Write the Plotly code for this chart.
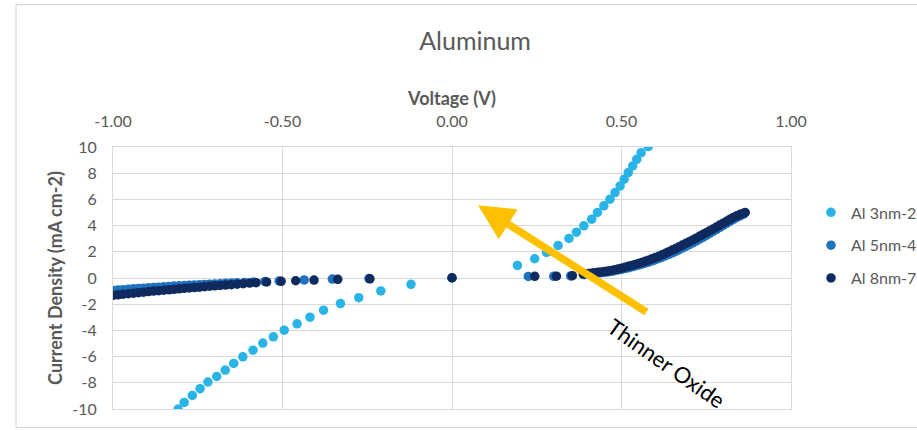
import plotly.graph_objects as go

# ---------------- data ----------------
# Al 3nm-2 : negative and positive branches
v_3nm = [-0.808, -0.790, -0.766, -0.743, -0.720, -0.694, -0.669, -0.644, -0.617, -0.587,
         -0.558, -0.527, -0.495, -0.457, -0.419, -0.379, -0.329, -0.275, -0.210, -0.121,
         0.193, 0.244, 0.279, 0.313, 0.345, 0.367, 0.389, 0.412, 0.429, 0.448,
         0.466, 0.481, 0.496, 0.508, 0.520, 0.533, 0.545, 0.558, 0.579]
j_3nm = [-10.0, -9.5, -8.96, -8.45, -7.94, -7.51, -7.03, -6.52, -6.02, -5.51,
         -4.97, -4.49, -3.98, -3.50, -2.99, -2.46, -1.95, -1.50, -0.99, -0.48,
         0.96, 1.47, 1.95, 2.49, 3.02, 3.50, 3.98, 4.49, 5.00, 5.51,
         6.02, 6.52, 7.03, 7.54, 8.05, 8.55, 9.06, 9.57, 10.03]

# Al 5nm-4
v_5nm = [-1.000, -0.985, -0.970, -0.955, -0.940, -0.925, -0.910, -0.895, -0.880, -0.865,
         -0.850, -0.835, -0.820, -0.805, -0.790, -0.775, -0.760, -0.745, -0.730, -0.715,
         -0.700, -0.684, -0.668, -0.651, -0.634, -0.612, -0.585, -0.552, -0.510, -0.436,
         -0.353, -0.245, 0.000,
         0.225, 0.300, 0.350,
         0.39, 0.40, 0.41, 0.42, 0.43, 0.44, 0.45, 0.46, 0.47, 0.48,
         0.49, 0.50, 0.51, 0.52, 0.53, 0.54, 0.55, 0.56, 0.57, 0.58,
         0.59, 0.60, 0.61, 0.62, 0.63, 0.64, 0.65, 0.66, 0.67, 0.68,
         0.69, 0.70, 0.71, 0.72, 0.73, 0.74, 0.75, 0.76, 0.77, 0.78,
         0.79, 0.80, 0.81, 0.82, 0.83, 0.84, 0.85, 0.86]
j_5nm = [-0.95, -0.92, -0.89, -0.86, -0.83, -0.80, -0.78, -0.75, -0.72, -0.70,
         -0.67, -0.65, -0.62, -0.60, -0.58, -0.55, -0.53, -0.51, -0.49, -0.47,
         -0.45, -0.43, -0.41, -0.39, -0.37, -0.34, -0.31, -0.27, -0.23, -0.15,
         -0.08, -0.04, 0.00,
         0.12, 0.13, 0.16,
         0.25, 0.28, 0.31, 0.34, 0.37, 0.40, 0.43, 0.47, 0.51, 0.56,
         0.61, 0.66, 0.72, 0.78, 0.85, 0.92, 0.99, 1.06, 1.14, 1.22,
         1.31, 1.40, 1.49, 1.59, 1.70, 1.81, 1.92, 2.04, 2.16, 2.29,
         2.42, 2.55, 2.68, 2.82, 2.96, 3.10, 3.25, 3.40, 3.55, 3.70,
         3.86, 4.01, 4.17, 4.33, 4.48, 4.62, 4.75, 4.87]

# Al 8nm-7
v_8nm = [-1.000, -0.985, -0.970, -0.955, -0.940, -0.925, -0.910, -0.895, -0.880, -0.865,
         -0.850, -0.835, -0.820, -0.805, -0.790, -0.775, -0.760, -0.745, -0.730, -0.715,
         -0.700, -0.684, -0.668, -0.651, -0.634, -0.616, -0.597, -0.578, -0.547, -0.504,
         -0.461, -0.407, -0.337, -0.242, 0.000,
         0.244, 0.308, 0.355,
         0.387, 0.40, 0.41, 0.42, 0.43, 0.44, 0.45, 0.46, 0.47, 0.48,
         0.49, 0.50, 0.51, 0.52, 0.53, 0.54, 0.55, 0.56, 0.57, 0.58,
         0.59, 0.60, 0.61, 0.62, 0.63, 0.64, 0.65, 0.66, 0.67, 0.68,
         0.69, 0.70, 0.71, 0.72, 0.73, 0.74, 0.75, 0.76, 0.77, 0.78,
         0.79, 0.80, 0.81, 0.82, 0.83, 0.84, 0.85, 0.86, 0.865]
j_8nm = [-1.32, -1.28, -1.24, -1.20, -1.16, -1.12, -1.08, -1.04, -1.00, -0.97,
         -0.93, -0.90, -0.86, -0.83, -0.79, -0.76, -0.73, -0.70, -0.66, -0.63,
         -0.60, -0.57, -0.54, -0.51, -0.47, -0.43, -0.39, -0.36, -0.30, -0.25,
         -0.21, -0.16, -0.10, -0.06, 0.02,
         0.13, 0.14, 0.18,
         0.30, 0.34, 0.37, 0.40, 0.43, 0.46, 0.49, 0.53, 0.58, 0.63,
         0.69, 0.75, 0.82, 0.89, 0.96, 1.03, 1.10, 1.18, 1.27, 1.36,
         1.46, 1.56, 1.66, 1.77, 1.89, 2.01, 2.13, 2.25, 2.38, 2.51,
         2.64, 2.77, 2.90, 3.04, 3.18, 3.32, 3.46, 3.60, 3.74, 3.89,
         4.04, 4.18, 4.33, 4.48, 4.62, 4.75, 4.86, 4.95, 5.00]

series_names = ["Al 3nm-2", "Al 5nm-4", "Al 8nm-7"]
series_colors = ["#29B4E8", "#1F72BE", "#0E2A5E"]

x_tickvals = [-1.0, -0.5, 0.0, 0.5, 1.0]
x_ticktext = ["-1.00", "-0.50", "0.00", "0.50", "1.00"]
y_tickvals = [10, 8, 6, 4, 2, 0, -2, -4, -6, -8, -10]
y_ticktext = ["10", "8", "6", "4", "2", "0", "-2", "-4", "-6", "-8", "-10"]

chart_title = "Aluminum"
x_title = "Voltage (V)"
y_title = "Current Density (mA cm-2)"
arrow_label = "Thinner Oxide"

# ---------------- figure ----------------
FONT = "Lato, 'Open Sans', sans-serif"
GRAY = "#595959"
GRID = "#D9D9D9"

fig = go.Figure()
for name, xs, ys, col in zip(series_names, [v_3nm, v_5nm, v_8nm],
                             [j_3nm, j_5nm, j_8nm], series_colors):
    fig.add_trace(go.Scatter(
        x=xs, y=ys, mode="markers", name=name, legendgroup=name,
        marker=dict(color=col, size=9.5, line=dict(width=0)),
    ))

# yellow arrow
fig.add_annotation(
    x=0.077, y=5.56, ax=0.578, ay=-2.67, xref="x", yref="y", axref="x", ayref="y",
    text="", showarrow=True, arrowhead=2, arrowsize=0.95, arrowwidth=7.5,
    arrowcolor="#FFC000", standoff=0,
)
fig.add_annotation(
    x=0.634, y=-6.5, xref="x", yref="y", text=arrow_label, showarrow=False,
    textangle=35, font=dict(family=FONT, size=22, color="#000000"),
)

# outer chart border
fig.add_shape(type="rect", xref="paper", yref="paper",
              x0=-0.143, x1=1.25, y0=-0.071, y1=1.543,
              line=dict(color="#D0D0D0", width=1), fillcolor="rgba(0,0,0,0)",
              layer="below")

fig.update_layout(
    width=917, height=431,
    margin=dict(l=113, r=126, t=147, b=22, autoexpand=False),
    paper_bgcolor="white", plot_bgcolor="white",
    font=dict(family=FONT, color=GRAY),
    title=dict(text=chart_title, x=0.534, xref="paper", xanchor="center",
               y=0.905, yref="container", yanchor="middle",
               font=dict(family=FONT, size=25, color=GRAY)),
    showlegend=True,
    legend=dict(x=1.0295, xanchor="left", y=0.815, yanchor="top",
                font=dict(family=FONT, size=16, color=GRAY),
                traceorder="grouped", tracegroupgap=9,
                bgcolor="rgba(0,0,0,0)", itemwidth=30),
)

fig.update_xaxes(
    range=[-1, 1], side="top", tickvals=x_tickvals, ticktext=x_ticktext,
    showgrid=True, gridcolor=GRID, gridwidth=1,
    zeroline=True, zerolinecolor=GRID, zerolinewidth=1,
    showline=True, linecolor=GRID, mirror=True,
    ticks="", ticklabelstandoff=13,
    tickfont=dict(family=FONT, size=16, color=GRAY),
    title=dict(text="<b>" + x_title + "</b>", standoff=0,
               font=dict(family=FONT, size=18, color=GRAY)),
)
fig.update_yaxes(
    range=[-10, 10], tickvals=y_tickvals, ticktext=y_ticktext,
    showgrid=True, gridcolor=GRID, gridwidth=1,
    zeroline=True, zerolinecolor=GRID, zerolinewidth=1,
    showline=True, linecolor=GRID, mirror=True,
    ticks="", ticklabelstandoff=12,
    tickfont=dict(family=FONT, size=16, color=GRAY),
    title=dict(text="<b>" + y_title + "</b>", standoff=4,
               font=dict(family=FONT, size=18, color=GRAY)),
)

fig.write_html("out.html")
